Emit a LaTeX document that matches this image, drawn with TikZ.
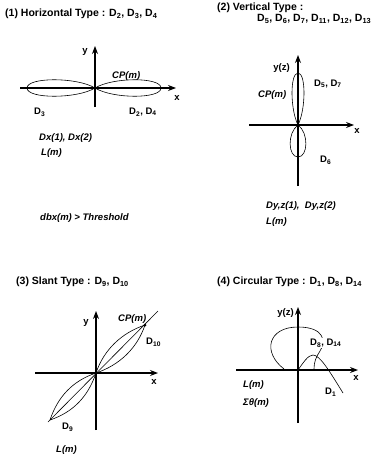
\documentclass[tikz,border=0pt]{standalone}
\usepackage{fontspec}
\setmainfont{Liberation Sans}
\usetikzlibrary{arrows.meta}

\begin{document}
\begin{tikzpicture}[
  x=1pt, y=-1pt,
  ttl/.style={anchor=west, inner sep=0pt, font=\fontsize{10.5}{12}\selectfont\bfseries},
  lbl/.style={anchor=west, inner sep=0pt, font=\fontsize{9.5}{11}\selectfont\bfseries},
  itl/.style={anchor=west, inner sep=0pt, font=\fontsize{9.5}{11}\selectfont\bfseries\itshape},
  axis/.style={-{Stealth[length=8pt,width=6pt]}, line width=1.1pt},
  lobe/.style={line width=0.6pt},
  dot/.style={circle, fill, inner sep=0pt, minimum size=3pt}
]
\useasboundingbox (0,0) rectangle (382,460);

% (1) horizontal
\node[ttl] (t1) at (5,14) {(1) Horizontal Type : D\textsubscript{2}, D\textsubscript{3}, D\textsubscript{4}};
\coordinate (o1) at (95,88);
\coordinate (x1a) at (20,88);
\coordinate (x1b) at (176,88);
\coordinate (y1a) at (95,107);
\coordinate (y1b) at (95,46);
\coordinate (l1) at (27,88);
\coordinate (r1) at (161,88);
\draw[axis] (x1a) -- (x1b);
\draw[axis] (y1a) -- (y1b);
\draw[lobe] (o1) .. controls +(18,-11) and +(0,-11) .. (r1) .. controls +(0,11) and +(18,11) .. (o1);
\draw[lobe] (o1) .. controls +(-18,-11) and +(0,-11) .. (l1) .. controls +(0,11) and +(-18,11) .. (o1);
\node[dot] (c1) at (o1) {};
\node[lbl, anchor=center] (ya1) at (85,52) {y};
\node[lbl, anchor=center] (xa1) at (177,98) {x};
\node[itl] (cp1) at (112,76) {CP(m)};
\node[lbl] (d3) at (34,112) {D\textsubscript{3}};
\node[lbl] (d24) at (129,112) {D\textsubscript{2}, D\textsubscript{4}};
\node[itl] (dx) at (39,138) {Dx(1), Dx(2)};
\node[itl] (lm1) at (41,153) {L(m)};
\node[itl] (thr) at (40,218) {dbx(m) > Threshold};

% (2) vertical
\node[ttl] (t2) at (217,8) {(2) Vertical Type :};
\node[ttl] (t2b) at (257,19) {D\textsubscript{5}, D\textsubscript{6}, D\textsubscript{7}, D\textsubscript{11}, D\textsubscript{12}, D\textsubscript{13}};
\coordinate (o2) at (298,125);
\coordinate (x2a) at (249,125);
\coordinate (x2b) at (354,125);
\coordinate (y2a) at (298,186);
\coordinate (y2b) at (298,55);
\coordinate (u2) at (298,73);
\coordinate (w2) at (298,157);
\draw[axis] (x2a) -- (x2b);
\draw[axis] (y2a) -- (y2b);
\draw[lobe] (o2) .. controls +(-8,-16) and +(-8,0) .. (u2) .. controls +(8,0) and +(8,-16) .. (o2);
\draw[lobe] (o2) .. controls +(-11,8) and +(-10,0) .. (w2) .. controls +(10,0) and +(11,8) .. (o2);
\node[dot] (c2) at (o2) {};
\node[lbl, anchor=east] (ya2) at (290,68) {y(z)};
\node[lbl, anchor=center] (xa2) at (357,131) {x};
\node[lbl] (d57) at (314,84) {D\textsubscript{5}, D\textsubscript{7}};
\node[itl] (cp2) at (258,95) {CP(m)};
\node[lbl] (d6) at (320,160) {D\textsubscript{6}};
\node[itl] (dyz) at (266,206) {Dy,z(1),\ \ Dy,z(2)};
\node[itl] (lm2) at (266,222) {L(m)};

% (3) slant
\node[ttl] (t3) at (16,282) {(3) Slant Type : D\textsubscript{9}, D\textsubscript{10}};
\coordinate (o3) at (96,373);
\coordinate (x3a) at (35,373);
\coordinate (x3b) at (158,373);
\coordinate (y3a) at (96,430);
\coordinate (y3b) at (96,311);
\coordinate (s3a) at (48,422);
\coordinate (s3b) at (158,311);
\coordinate (e3) at (145,325);
\coordinate (f3) at (50,420);
\draw[axis] (x3a) -- (x3b);
\draw[axis] (y3a) -- (y3b);
\draw[lobe] (s3a) -- (s3b);
\draw[lobe] (o3) .. controls +(23.3,-7.8) and +(-7.8,23.3) .. (e3) .. controls +(-23.3,7.8) and +(7.8,-23.3) .. (o3);
\draw[lobe] (o3) .. controls +(-23.3,7.8) and +(7.8,-23.3) .. (f3) .. controls +(23.3,-7.8) and +(-7.8,23.3) .. (o3);
\node[dot] (c3) at (o3) {};
\node[dot] (c3b) at (e3) {};
\node[lbl, anchor=center] (ya3) at (86,323) {y};
\node[lbl, anchor=center] (xa3) at (154,382) {x};
\node[itl] (cp3) at (118,319) {CP(m)};
\node[lbl] (d10) at (146,342) {D\textsubscript{10}};
\node[lbl] (d9) at (62,427) {D\textsubscript{9}};
\node[itl] (lm3) at (56,450) {L(m)};

% (4) circular
\node[ttl] (t4) at (217,282) {(4) Circular Type : D\textsubscript{1}, D\textsubscript{8}, D\textsubscript{14}};
\coordinate (o4) at (298,370);
\coordinate (x4a) at (236,370);
\coordinate (x4b) at (358,370);
\coordinate (y4a) at (298,423);
\coordinate (y4b) at (298,307);
\coordinate (p4a) at (284,369);
\coordinate (p4t) at (298,327);
\coordinate (p4b) at (314,369);
\coordinate (h4) at (313,355);
\coordinate (h4e) at (343,393);
\draw[axis] (x4a) -- (x4b);
\draw[axis] (y4a) -- (y4b);
\draw[lobe] (p4a) .. controls (262,352) and (268,327) .. (p4t) .. controls (325,327) and (326,342) .. (320,351) .. controls (316,357) and (314,362) .. (p4b);
\draw[lobe] (o4) .. controls (303,363) and (308,355) .. (h4) .. controls (320,355) and (330,372) .. (h4e);
\node[lbl, anchor=east] (ya4) at (294,313) {y(z)};
\node[lbl, anchor=center] (xa4) at (356,378) {x};
\node[lbl, fill=white, inner sep=1pt] (d814) at (309,343) {D\textsubscript{8}, D\textsubscript{14}};
\node[lbl] (d1) at (325,392) {D\textsubscript{1}};
\node[itl] (lm4) at (243,385) {L(m)};
\node[itl] (sth) at (243,403) {Σθ(m)};
\end{tikzpicture}
\end{document}
